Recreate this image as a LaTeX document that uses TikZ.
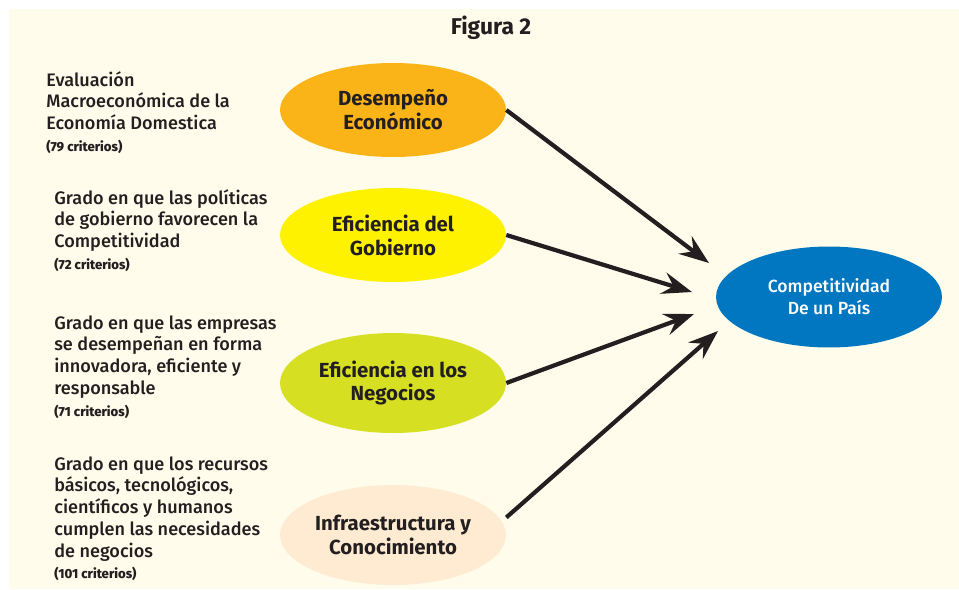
\documentclass[tikz,border=0pt]{standalone}
\usepackage{fontspec}
\setmainfont{Fira Sans}
\newfontfamily\mediumfont{Fira Sans Medium}
\usetikzlibrary{shapes.geometric, arrows.meta}

\begin{document}
\begin{tikzpicture}[x=0.02cm, y=-0.02cm,
    pillar/.style={ellipse, minimum width=4.52cm, minimum height=1.88cm, inner sep=0pt, align=center, text=textColour, font=\bfseries\fontsize{11.6}{13.6}\selectfont},
    criteria/.style={anchor=north west, inner sep=0pt, align=left, text=textColour, font=\mediumfont\fontsize{10.3}{12.4}\selectfont},
    link/.style={line width=2.4pt, draw=textColour, -{Stealth[length=17pt, width=12.5pt, inset=6pt]}}]
    % Define colours
    \definecolor{textColour}{HTML}{231F20}
    \definecolor{paperColour}{HTML}{FFFCEB}
    \definecolor{orangeColour}{HTML}{FBB417}
    \definecolor{yellowColour}{HTML}{FFF200}
    \definecolor{limeColour}{HTML}{D7DF23}
    \definecolor{peachColour}{HTML}{FEEBD2}
    \definecolor{blueColour}{HTML}{0077C0}

    % Define small text for the number of criteria
    \def\criterios#1{{\bfseries\fontsize{7.5}{9}\selectfont(#1 criterios)}}

    % Draw background
    \useasboundingbox (0,0) rectangle (959,589);
    \fill[paperColour] (9,9) rectangle (959,589);

    % Title
    \node[text=textColour, font=\bfseries\fontsize{13}{15}\selectfont] (title) at (491,28) {Figura 2};

    % Draw the four factors
    \node[pillar, fill=orangeColour] (desempeno) at (393,110) {Desempeño\\Económico};
    \node[pillar, fill=yellowColour] (gobierno) at (393,235) {Eficiencia del\\Gobierno};
    \node[pillar, fill=limeColour, minimum height=2cm] (negocios) at (393,383) {Eficiencia en los\\Negocios};
    \node[pillar, fill=peachColour, minimum height=2cm] (infra) at (393,535) {Infraestructura y\\Conocimiento};

    % Draw the result
    \node[pillar, fill=blueColour, minimum height=2.02cm, text=white, font=\mediumfont\fontsize{10}{12.5}\selectfont] (pais) at (829,297) {Competitividad\\De un País};

    % Descriptions on the left
    \node[criteria] (desc1) at (46,71) {Evaluación\\Macroeconómica de la\\Economía Domestica\\\criterios{79}};
    \node[criteria] (desc2) at (54,189) {Grado en que las políticas\\de gobierno favorecen la\\Competitividad\\\criterios{72}};
    \node[criteria] (desc3) at (54,315) {Grado en que las empresas\\se desempeñan en forma\\innovadora, eficiente y\\responsable\\\criterios{71}};
    \node[criteria] (desc4) at (54,456) {Grado en que los recursos\\básicos, tecnológicos,\\científicos y humanos\\cumplen las necesidades\\de negocios\\\criterios{101}};

    % Define arrow targets next to the result
    \coordinate (t1) at (709,263);
    \coordinate (t2) at (692,292);
    \coordinate (t3) at (694,314);
    \coordinate (t4) at (718,331);

    % Draw arrows
    \draw[link] (desempeno.east) -- (t1);
    \draw[link] (gobierno.east) -- (t2);
    \draw[link] (negocios.east) -- (t3);
    \draw[link] ([yshift=10]infra.east) -- (t4);

\end{tikzpicture}
\end{document}
